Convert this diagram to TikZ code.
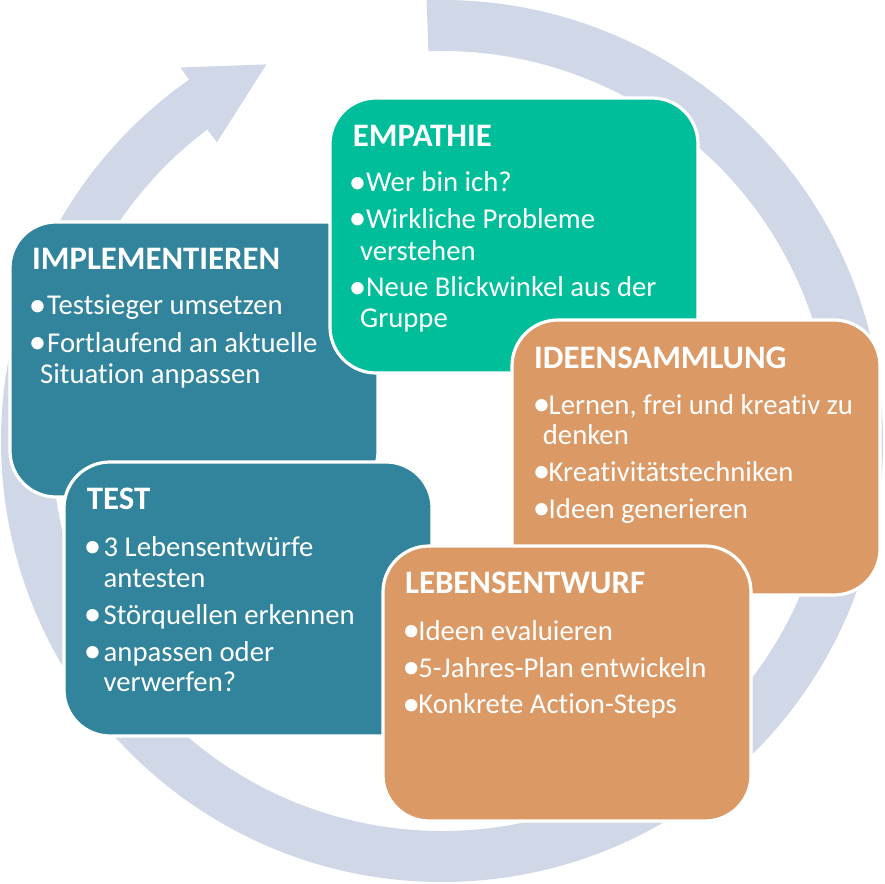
\documentclass[tikz,border=0pt]{standalone}
\usepackage{fontspec}
\usepackage{graphicx}
\setmainfont{Carlito}[Ligatures=NoCommon]
\definecolor{ringc}{HTML}{D0D7E7}
\definecolor{tealc}{HTML}{31849B}
\definecolor{greenc}{HTML}{00BE9A}
\definecolor{orangec}{HTML}{DB9966}
\newcommand\bul[1]{\makebox[#1pt][l]{\hspace{-4.4pt}\raisebox{-1.2pt}{\scalebox{1.22}{•}}}}
\tikzset{
  box/.style={draw=white, line width=3.2pt, rounded corners=46pt},
  ttl/.style={anchor=base west, inner sep=0pt, text=white, font=\fontsize{32.8}{38}\selectfont\bfseries},
  txt/.style={anchor=base west, inner sep=0pt, text=white, font=\fontsize{28.7}{34}\selectfont}
}
\begin{document}
\begin{tikzpicture}[x=1pt,y=1pt]
\useasboundingbox (0,0) rectangle (885,883);
\fill[white] (0,0) rectangle (885,883);
% circular arrow
\begin{scope}[shift={(442,442)}]
\fill[ringc] (92:441) arc[start angle=92, end angle=-235, radius=441]
  -- (-235:456) -- (-245:415.5) -- (-233:374) -- (-233:390)
  arc[start angle=-233, end angle=92, radius=390] -- cycle;
\end{scope}
% IMPLEMENTIEREN
\filldraw[box, fill=tealc] (10,386) rectangle (378,661);
\node[ttl] (impt) at (32,613) {IMPLEMENTIEREN};
\node[txt] (imp1) at (33,568) {\bul{14}Testsieger umsetzen};
\node[txt] (imp2) at (33,530.3) {\bul{14}Fortlaufend an aktuelle};
\node[txt] (imp3) at (40,499) {Situation anpassen};
% EMPATHIE
\filldraw[box, fill=greenc] (330,510) rectangle (698,785);
\node[ttl] (empt) at (352.7,736.3) {EMPATHIE};
\node[txt] (emp1) at (353,691) {\bul{13}Wer bin ich?};
\node[txt] (emp2) at (353,654.7) {\bul{13}Wirkliche Probleme};
\node[txt] (emp3) at (360,622.3) {verstehen};
\node[txt] (emp4) at (353,586) {\bul{13}Neue Blickwinkel aus der};
\node[txt] (emp5) at (360,555) {Gruppe};
% IDEENSAMMLUNG
\filldraw[box, fill=orangec] (512,288) rectangle (880,563);
\node[ttl] (idet) at (534,514.7) {IDEENSAMMLUNG};
\node[txt] (ide1) at (537,468.7) {\bul{11.5}Lernen, frei und kreativ zu};
\node[txt] (ide2) at (542.7,438) {denken};
\node[txt] (ide3) at (537,401.3) {\bul{11.5}Kreativitätstechniken};
\node[txt] (ide4) at (537,364.7) {\bul{11.5}Ideen generieren};
% TEST
\filldraw[box, fill=tealc] (64,147) rectangle (432,421);
\node[ttl] (tstt) at (86.7,373.3) {TEST};
\node[txt] (tst1) at (88,326.7) {\bul{15.5}3 Lebensentwürfe};
\node[txt] (tst2) at (103.5,295.7) {antesten};
\node[txt] (tst3) at (88,258.3) {\bul{15.5}Störquellen erkennen};
\node[txt] (tst4) at (88,221.7) {\bul{15.5}anpassen oder};
\node[txt] (tst5) at (103.5,191.7) {verwerfen?};
% LEBENSENTWURF
\filldraw[box, fill=orangec] (383,62) rectangle (751,337);
\node[ttl] (lebt) at (405,289) {LEBENSENTWURF};
\node[txt] (leb1) at (406.7,242.3) {\bul{11.5}Ideen evaluieren};
\node[txt] (leb2) at (406.7,205.7) {\bul{11.5}5-Jahres-Plan entwickeln};
\node[txt] (leb3) at (406.7,169) {\bul{11.5}Konkrete Action-Steps};
\end{tikzpicture}
\end{document}
